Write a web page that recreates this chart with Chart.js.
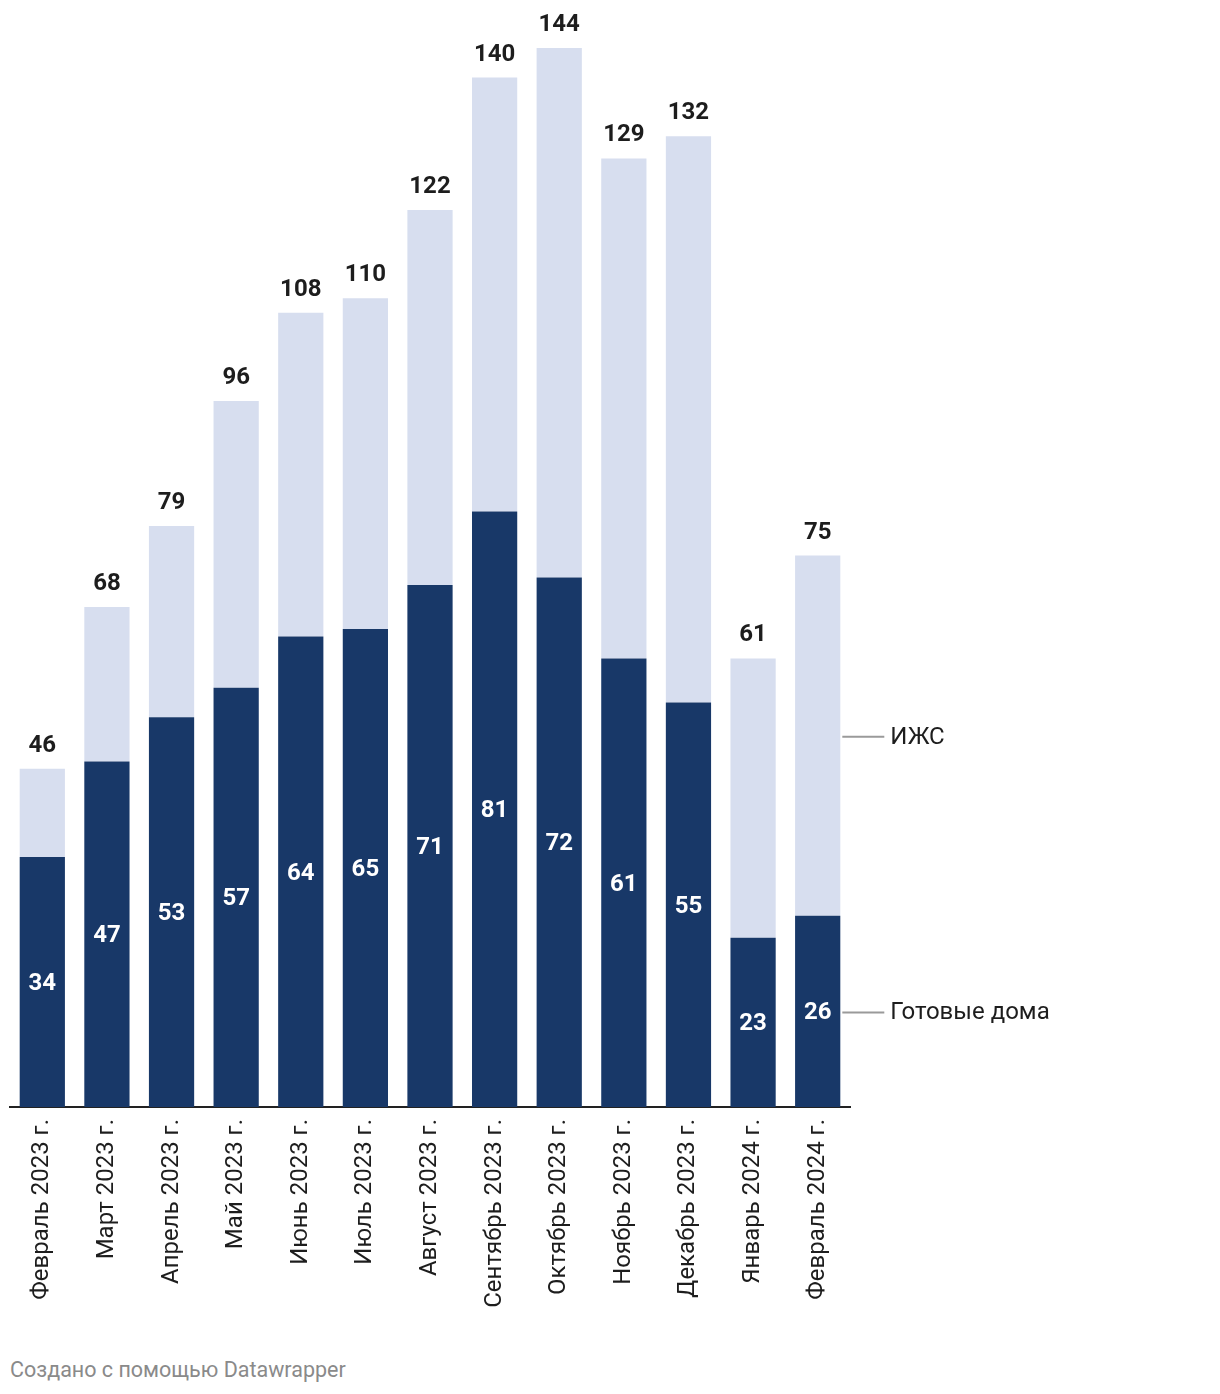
<!DOCTYPE html>
<html>
<head>
<meta charset="utf-8">
<script src="https://cdn.jsdelivr.net/npm/chart.js@4.4.0/dist/chart.umd.min.js"></script>
<style>
  body { margin: 0; background: #fff; font-family: Roboto, sans-serif; }
  #wrap { position: relative; width: 1220px; height: 1394px; }
  #footer { position: absolute; left: 10px; top: 1357px; font-size: 21.5px; color: #8a8a8a; }
</style>
</head>
<body>
<div id="wrap">
  <canvas id="chart" width="1220" height="1340"></canvas>
  <div id="footer">Создано с помощью Datawrapper</div>
</div>
<script>
const months = ['Февраль 2023 г.', 'Март 2023 г.', 'Апрель 2023 г.', 'Май 2023 г.', 'Июнь 2023 г.', 'Июль 2023 г.',
  'Август 2023 г.', 'Сентябрь 2023 г.', 'Октябрь 2023 г.', 'Ноябрь 2023 г.', 'Декабрь 2023 г.', 'Январь 2024 г.', 'Февраль 2024 г.'];
const readyHouses = [34, 47, 53, 57, 64, 65, 71, 81, 72, 61, 55, 23, 26];
const izhs = [12, 21, 26, 39, 44, 45, 51, 59, 72, 68, 77, 38, 49];
const totals = [46, 68, 79, 96, 108, 110, 122, 140, 144, 129, 132, 61, 75];
const seriesNames = ['Готовые дома', 'ИЖС'];

const darkBlue = '#183868';
const lightBlue = '#d7deef';

// value labels + right side series labels
const labelPlugin = {
  id: 'labels',
  afterDatasetsDraw(chart) {
    const ctx = chart.ctx;
    const dark = chart.getDatasetMeta(0).data;
    const light = chart.getDatasetMeta(1).data;
    ctx.save();
    ctx.textAlign = 'center';
    ctx.textBaseline = 'middle';
    ctx.font = 'bold 24px Roboto';
    dark.forEach((bar, i) => {
      ctx.fillStyle = '#ffffff';
      ctx.fillText(readyHouses[i], bar.x, (bar.y + bar.base) / 2 + 2);
      ctx.fillStyle = '#1d1d1d';
      ctx.fillText(totals[i], light[i].x, light[i].y - 23);
    });

    const last = dark.length - 1;
    const x0 = dark[last].x + dark[last].width / 2;
    const ys = [(dark[last].y + dark[last].base) / 2, (light[last].y + light[last].base) / 2];
    ctx.font = '24px Roboto';
    ctx.textAlign = 'left';
    ys.forEach((y, k) => {
      ctx.strokeStyle = '#9a9a9a';
      ctx.lineWidth = 2;
      ctx.beginPath();
      ctx.moveTo(x0 + 2, y + 1);
      ctx.lineTo(x0 + 44, y + 1);
      ctx.stroke();
      ctx.fillStyle = '#1d1d1d';
      ctx.fillText(seriesNames[k], x0 + 50, y + 2);
    });
    ctx.restore();
  }
};

new Chart(document.getElementById('chart'), {
  type: 'bar',
  data: {
    labels: months,
    datasets: [
      { label: seriesNames[0], data: readyHouses, backgroundColor: darkBlue },
      { label: seriesNames[1], data: izhs, backgroundColor: lightBlue }
    ]
  },
  options: {
    responsive: false,
    animation: false,
    layout: { padding: { left: 10, right: 370, top: 4, bottom: 0 } },
    datasets: { bar: { categoryPercentage: 1, barPercentage: 0.7 } },
    plugins: { legend: { display: false }, tooltip: { enabled: false } },
    scales: {
      x: {
        stacked: true,
        grid: { display: false, drawTicks: false },
        border: { display: true, color: '#222', width: 2 },
        ticks: {
          color: '#1d1d1d',
          font: { family: 'Roboto', size: 24 },
          minRotation: 90,
          maxRotation: 90,
          autoSkip: false,
          padding: 12
        },
        afterFit(scale) { scale.height = 233; }
      },
      y: {
        stacked: true,
        display: false,
        min: 0,
        max: 150
      }
    }
  },
  plugins: [labelPlugin]
});
</script>
</body>
</html>
